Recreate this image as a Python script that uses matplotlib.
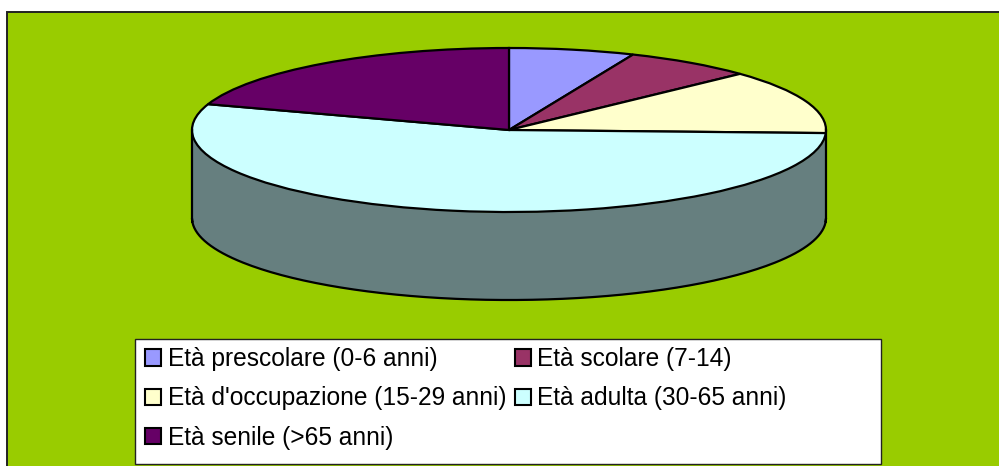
import numpy as np
import matplotlib.pyplot as plt
from matplotlib.patches import Rectangle

W, H = 999, 466
labels = ['Età prescolare (0-6 anni)', 'Età scolare (7-14)',
          "Età d'occupazione (15-29 anni)", 'Età adulta (30-65 anni)',
          'Età senile (>65 anni)']
values = [6.4, 6.6, 12.6, 54.5, 19.9]
colors = ['#9999FF', '#993366', '#FFFFCC', '#CCFFFF', '#660066']
wall_color = '#667F7F'
green = '#99CC00'

plt.rcParams['font.family'] = ['Liberation Sans', 'DejaVu Sans']
fig = plt.figure(figsize=(W / 100, H / 100), dpi=100, facecolor='white')

# background axes in pixel coordinates
bg = fig.add_axes([0, 0, 1, 1])
bg.set_xlim(0, W)
bg.set_ylim(H, 0)
bg.axis('off')
bg.add_patch(Rectangle((6.5, 11.5), W, H, fc=green, ec='#222222', lw=1.4))
bg.add_patch(Rectangle((134.5, 338.5), 746, 125, fc='white', ec='#222222', lw=1))

# pie: ellipse is 634 px wide, 164 px tall, wall 88 px deep
ry = 82
depth = 88 / ry
ax = fig.add_axes([192 / W, (H - 300) / H, 634 / W, 252 / H])
ax.patch.set_alpha(0)

theta = np.linspace(-0.04, np.pi + 0.04, 200)
xs = np.cos(theta)
ys = -np.sqrt(np.clip(1 - xs ** 2, 0, 1))
ax.fill_between(xs, ys, ys - depth, color=wall_color, lw=0, clip_on=False)
ax.plot(xs, ys - depth, color='black', lw=1.6, clip_on=False)
ax.plot([-1, -1], [0, -depth], color='black', lw=1.6, clip_on=False)
ax.plot([1, 1], [0, -depth], color='black', lw=1.6, clip_on=False)

wedges, _ = ax.pie(values, colors=colors, startangle=90, counterclock=False,
                   radius=1, wedgeprops=dict(edgecolor='black', linewidth=1.6))
for w in wedges:
    w.set_clip_on(False)
ax.set_aspect('auto')
ax.set_xlim(-1, 1)
ax.set_ylim(1 - 252 / ry, 1)
ax.axis('off')

# matplotlib fills legend columns first
order = [0, 2, 4, 1, 3]
leg = bg.legend([wedges[i] for i in order], [labels[i] for i in order], ncol=2,
                frameon=False, fontsize=17.65, loc='upper left',
                bbox_to_anchor=(145 / W, 1 - 347 / H), borderaxespad=0,
                borderpad=0, handlelength=0.65, handleheight=0.65,
                handletextpad=0.28, labelspacing=0.63, columnspacing=0.34)
for h in leg.legend_handles:
    h.set_linewidth(1.5)

fig.savefig('out.png', dpi=100)
